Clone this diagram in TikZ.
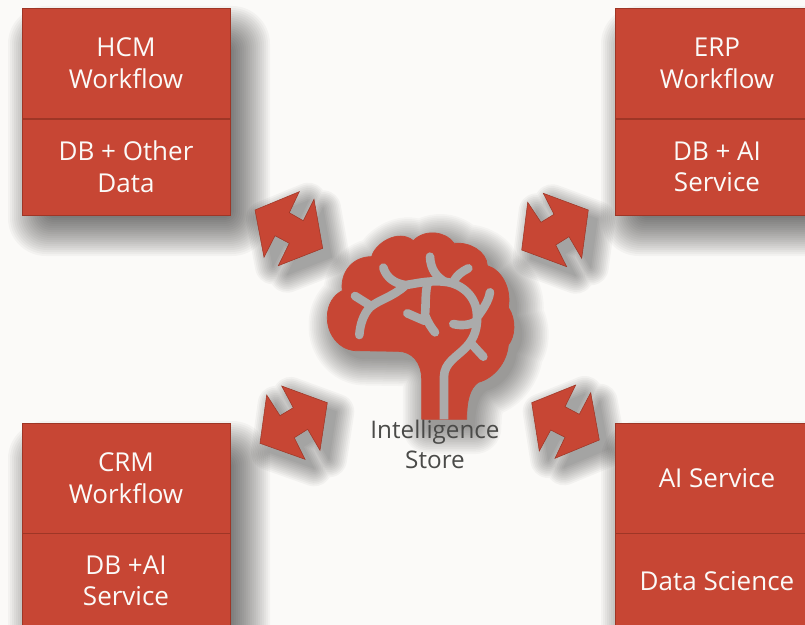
\documentclass[tikz,border=0pt]{standalone}
\usepackage{fontspec}
\setmainfont{Open Sans}
\definecolor{oraclered}{HTML}{C74634}
\definecolor{darkred}{HTML}{9E3626}
\definecolor{paper}{HTML}{FBFAF8}
\definecolor{vein}{HTML}{ABABAB}
\definecolor{labelgrey}{HTML}{4A4A48}
\usetikzlibrary{positioning}
\tikzset{
    base/.style={inner sep=0pt, outer sep=0pt},
    panel/.style={base, draw=darkred, line width=0.5pt, fill=oraclered, text=paper,
        minimum width=4.16cm, align=center, font=\fontsize{14.8}{18}\selectfont},
    softshade/.style={fill=black, opacity=0.032},
    softline/.style={fill=black, draw=black, line join=round},
    veinline/.style={draw=vein, line width=4.9pt, line cap=round, line join=round},
}
\newcommand*{\arrowhcm}{(255,210) -- (299.3,191.7) -- (289.3,212.7) -- (303.3,220.7) -- (314,199.3) -- (322.7,248.3) -- (278.3,265.7) -- (289.3,243.3) -- (275,235.7) -- (264,257.3) -- cycle}
\newcommand*{\arrowerp}{(588.3,210) -- (543.3,193.3) -- (554,214.3) -- (541,222.3) -- (527.7,202.3) -- (521.7,250) -- (566.7,266.7) -- (555.7,245) -- (569,236.7) -- (581.7,258.3) -- cycle}
\newcommand*{\arrowcrm}{(327.3,402.7) -- (281.7,386) -- (293.3,407.7) -- (280,415.7) -- (266.7,395) -- (260,443.3) -- (305,459.3) -- (294.3,437.7) -- (307.7,429.3) -- (320,450.3) -- cycle}
\newcommand*{\arrowai}{(531.7,402.7) -- (575.7,385) -- (565,406.7) -- (579.3,414.3) -- (590.7,392.7) -- (599.3,440) -- (555,458.3) -- (565,437.3) -- (550.7,430) -- (539.3,451) -- cycle}
% brain outline, in units of a third of a pixel
\newcommand*{\brainoutline}{(335,598) -- (335,480) .. controls (335,425) and (305,395) .. (265,394)
    -- (135,392) .. controls (85,388) and (50,340) .. (52,290)
    .. controls (52,255) and (70,225) .. (97,212) .. controls (90,160) and (125,110) .. (185,110)
    .. controls (195,70) and (265,25) .. (310,62) .. controls (345,25) and (410,35) .. (432,70)
    .. controls (480,65) and (530,95) .. (532,137) .. controls (575,150) and (605,205) .. (595,262)
    .. controls (620,300) and (615,350) .. (595,375) .. controls (590,430) and (550,475) .. (505,487)
    .. controls (480,505) and (470,540) .. (470,598) -- cycle}
\begin{document}
\begin{tikzpicture}[x=0.02cm, y=-0.02cm]
    \useasboundingbox (0,0) rectangle (805,625);
    \clip (0,0) rectangle (805,625);
    \fill [paper] (0,0) rectangle (805,625);
    % shadows
    \foreach \d [evaluate=\d as \r using 0.45*(\d+24)] in {-22,-20,...,24} {
        \begin{scope}[rounded corners=\r pt]
            \fill [softshade] (32-\d,30-\d) rectangle (246+\d,232+\d);
            \fill [softshade] (625-\d,30-\d) rectangle (840+\d,232+\d);
            \fill [softshade] (32-\d,445-\d) rectangle (246+\d,660+\d);
            \fill [softshade] (625-\d,445-\d) rectangle (840+\d,660+\d);
        \end{scope}
    }
    \foreach \w in {0.5,2.5,...,20.5} {
        \foreach \pts in {\arrowhcm,\arrowerp,\arrowcrm,\arrowai} {
            \begin{scope}[shift={(9,9)}, transparency group, opacity=0.035]
                \draw [softline, line width=\w pt] \pts;
            \end{scope}
        }
    }
    \foreach \w in {0.5,2.5,...,30.5} {
        \begin{scope}[shift={(318,228)}, scale=1/3, transparency group, opacity=0.027]
            \draw [softline, line width=\w pt] \brainoutline;
        \end{scope}
    }
    % boxes
    \node [panel, minimum height=2.22cm] (hcmflow) at (126,63.5) {HCM\\Workflow};
    \node [panel, minimum height=1.92cm, below=0pt of hcmflow] (hcmdata) {DB + Other\\Data};
    \node [panel, minimum width=4.08cm, minimum height=2.22cm] (erpflow) at (717,63.5) {ERP\\Workflow};
    \node [panel, minimum width=4.08cm, minimum height=1.92cm, below=0pt of erpflow] (erpdata) {DB + AI\\Service};
    \node [panel, minimum height=2.2cm] (crmflow) at (126,478) {CRM\\Workflow};
    \node [panel, minimum height=1.92cm, below=0pt of crmflow] (crmdata) {DB +AI\\Service};
    \node [panel, minimum width=4.08cm, minimum height=2.2cm] (aiflow) at (717,478) {AI Service};
    \node [panel, minimum width=4.08cm, minimum height=1.92cm, below=0pt of aiflow] (aidata) {Data Science};
    \draw [darkred, line width=1.1pt] (hcmflow.south west) -- (hcmflow.south east);
    \draw [darkred, line width=1.1pt] (erpflow.south west) -- (erpflow.south east);
    % arrows
    \foreach \pts in {\arrowhcm,\arrowerp,\arrowcrm,\arrowai} {
        \draw [darkred, line width=0.3pt, fill=oraclered] \pts;
    }
    % brain
    \begin{scope}[shift={(310,220)}, scale=1/3]
        \draw [fill=oraclered, draw=oraclered] \brainoutline;
        \draw [veinline, line cap=butt] (402,598) -- (402,470) .. controls (402,430) and (440,410) .. (465,385)
            .. controls (495,355) and (505,320) .. (500,275) .. controls (495,225) and (450,188) .. (400,185);
        \draw [veinline] (400,185) .. controls (350,180) and (300,195) .. (285,195) .. controls (255,190) and (230,175) .. (220,143);
        \draw [veinline] (360,110) .. controls (362,150) and (380,170) .. (405,186);
        \draw [veinline] (475,145) .. controls (455,155) and (442,165) .. (432,182);
        \draw [veinline] (540,217) .. controls (535,245) and (520,265) .. (505,287);
        \draw [veinline] (430,312) .. controls (455,318) and (480,315) .. (497,305);
        \draw [veinline] (485,372) -- (520,410);
        \draw [veinline] (285,197) .. controls (250,230) and (205,240) .. (180,262) .. controls (160,282) and (150,315) .. (148,345);
        \draw [veinline] (135,228) -- (178,255);
        \draw [veinline] (352,192) .. controls (345,225) and (348,255) .. (345,285) .. controls (355,310) and (365,325) .. (375,337);
        \draw [veinline] (292,280) -- (345,303);
    \end{scope}
    \node [base, text=labelgrey, align=center, font=\fontsize{13.8}{17}\selectfont] (store) at (435,444) {Intelligence\\Store};
\end{tikzpicture}
\end{document}
